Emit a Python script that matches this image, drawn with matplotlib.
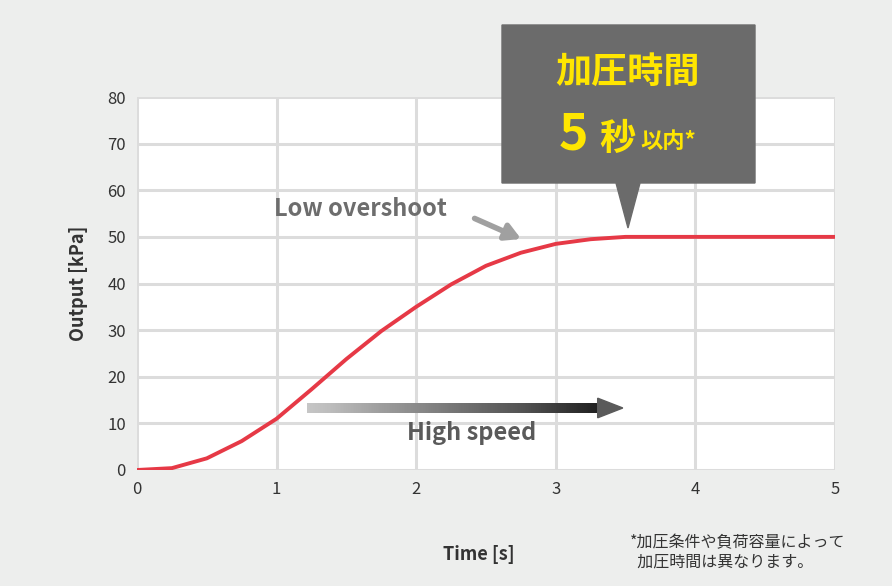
import numpy as np
import matplotlib.pyplot as plt
from matplotlib.patches import Polygon, FancyArrow

plt.rcParams['font.family'] = ['Noto Sans CJK JP', 'DejaVu Sans']

# data
time_s = [0, 0.25, 0.5, 0.75, 1.0, 1.25, 1.5, 1.75, 2.0, 2.25, 2.5, 2.75, 3.0, 3.25, 3.5, 4.0, 4.5, 5.0]
output_kpa = [0, 0.4, 2.5, 6.2, 11, 17.3, 23.8, 29.8, 35, 39.8, 43.8, 46.6, 48.5, 49.5, 50, 50, 50, 50]
x_ticks = [0, 1, 2, 3, 4, 5]
y_ticks = [0, 10, 20, 30, 40, 50, 60, 70, 80]

bg = '#edeeed'
fig = plt.figure(figsize=(8.92, 5.86), dpi=100, facecolor=bg)
ax = fig.add_axes([137/892, 1-470/586, 698/892, 373/586])
ax.set_facecolor('white')
ax.set_xlim(0, 5)
ax.set_ylim(0, 80)
ax.set_xticks(x_ticks)
ax.set_yticks(y_ticks)
ax.grid(True, color='#dcdcdc', lw=2.2)
ax.set_axisbelow(True)
for s in ax.spines.values():
    s.set_visible(False)
ax.tick_params(length=0, labelsize=12, colors='#333333', pad=8)
ax.set_xlabel('Time [s]', fontsize=13, fontweight='bold', color='#333333', labelpad=38)
ax.set_ylabel('Output [kPa]', fontsize=13, fontweight='bold', color='#333333', labelpad=14)
ax.xaxis.set_label_coords(0.49, -0.2)

ax.plot(time_s, output_kpa, color='#e63946', lw=2.8, zorder=3)

# gradient arrow
grad = np.linspace(0, 1, 256).reshape(1, -1)
ax.imshow(grad, extent=[1.22, 3.3, 12.3, 14.3], aspect='auto', cmap='Greys',
          vmin=-0.6, vmax=1.2, zorder=4)
ax.add_patch(Polygon([[3.3, 11.2], [3.3, 15.4], [3.48, 13.3]], closed=True,
                     color='#5a5a5a', zorder=4))
ax.text(2.4, 6.5, 'High speed', fontsize=17, fontweight='bold', color='#5a5a5a', ha='center')

# overshoot label
ax.text(1.6, 54.5, 'Low overshoot', fontsize=17, fontweight='bold', color='#6d6d6d', ha='center')
ax.annotate('', xy=(2.77, 49.3), xytext=(2.4, 54.2),
            arrowprops=dict(arrowstyle='-|>,head_width=0.5,head_length=0.9', color='#a0a0a0', lw=4))

# callout box
box_ax = fig.add_axes([0, 0, 1, 1], facecolor='none')
box_ax.set_xlim(0, 892)
box_ax.set_ylim(586, 0)
box_ax.axis('off')
box_ax.add_patch(Polygon([[502, 25], [755, 25], [755, 183], [640, 183], [628, 228],
                          [616, 183], [502, 183]], closed=True, color='#6b6b6b'))
box_ax.text(628, 72, '加圧時間', fontsize=26, fontweight='bold', color='#ffe600', ha='center', va='center')
box_ax.text(573, 135, '5', fontsize=36, fontweight='bold', color='#ffe600', ha='center', va='center')
box_ax.text(617, 139, '秒', fontsize=26, fontweight='bold', color='#ffe600', ha='center', va='center')
box_ax.text(668, 141, '以内*', fontsize=16, fontweight='bold', color='#ffe600', ha='center', va='center')
box_ax.text(630, 552, '*加圧条件や負荷容量によって\n  加圧時間は異なります。', fontsize=11.5,
            color='#333333', ha='left', va='center', linespacing=1.2)

fig.savefig('out.png', dpi=100, facecolor=bg)
